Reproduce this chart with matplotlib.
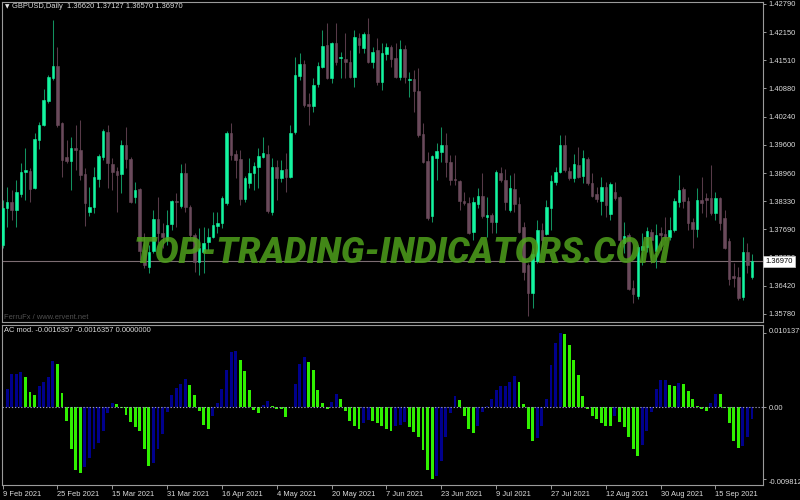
import numpy as np
import matplotlib
matplotlib.use("Agg")
import matplotlib.pyplot as plt
from matplotlib.transforms import ScaledTranslation

plt.rcParams['font.family'] = ['Liberation Sans', 'DejaVu Sans']

# ---------------- data ----------------
symbol_header = "GBPUSD,Daily  1.36620 1.37127 1.36570 1.36970"
ind_header = "AC mod. -0.0016357 -0.0016357 0.0000000"
credit = "FerruFx / www.ervent.net"
watermark = "TOP-TRADING-INDICATORS.COM"

date_labels = ["9 Feb 2021", "25 Feb 2021", "15 Mar 2021", "31 Mar 2021", "16 Apr 2021",
               "4 May 2021", "20 May 2021", "7 Jun 2021", "23 Jun 2021", "9 Jul 2021",
               "27 Jul 2021", "12 Aug 2021", "30 Aug 2021", "15 Sep 2021"]
date_bars = [0, 12, 24, 36, 48, 60, 72, 84, 96, 108, 120, 132, 144, 156]

price_ticks = [1.42790, 1.42150, 1.41510, 1.40880, 1.40240, 1.39600, 1.38960,
               1.38330, 1.37690, 1.37050, 1.36420, 1.35780]
current_price = 1.36970
ac_ticks = [0.0101379, 0.0, -0.0098128]
ac_tick_labels = ["0.0101379", "0.00", "-0.0098128"]

opens = [1.3734, 1.3817, 1.3831, 1.3813, 1.3849, 1.3899, 1.3901, 1.3863, 1.3971, 1.4005,
         1.4059, 1.4111, 1.4138, 1.4010, 1.3932, 1.3923, 1.3953, 1.3948, 1.3894, 1.3808,
         1.3820, 1.3883, 1.3933, 1.3989, 1.3917, 1.3901, 1.3894, 1.3960, 1.3928, 1.3842,
         1.3860, 1.3722, 1.3684, 1.3720, 1.3792, 1.3761, 1.3745, 1.3781, 1.3833, 1.3822,
         1.3896, 1.3820, 1.3756, 1.3695, 1.3718, 1.3740, 1.3752, 1.3777, 1.3784, 1.3829,
         1.3987, 1.3939, 1.3928, 1.3838, 1.3874, 1.3896, 1.3910, 1.3933, 1.3939, 1.3808,
         1.3910, 1.3885, 1.3905, 1.3887, 1.3990, 1.4116, 1.4143, 1.4052, 1.4048, 1.4098,
         1.4136, 1.4186, 1.4111, 1.4190, 1.4156, 1.4154, 1.4147, 1.4113, 1.4201, 1.4179,
         1.4210, 1.4147, 1.4174, 1.4102, 1.4165, 1.4181, 1.4156, 1.4113, 1.4177, 1.4107,
         1.4109, 1.4082, 1.3985, 1.3924, 1.3800, 1.3930, 1.3944, 1.3960, 1.3921, 1.3883,
         1.3879, 1.3833, 1.3829, 1.3763, 1.3826, 1.3845, 1.3797, 1.3802, 1.3786, 1.3896,
         1.3881, 1.3813, 1.3860, 1.3826, 1.3774, 1.3689, 1.3625, 1.3698, 1.3768, 1.3759,
         1.3817, 1.3876, 1.3899, 1.3960, 1.3901, 1.3885, 1.3915, 1.3890, 1.3928, 1.3874,
         1.3849, 1.3833, 1.3865, 1.3804, 1.3854, 1.3842, 1.3738, 1.3756, 1.3637, 1.3619,
         1.3723, 1.3729, 1.3763, 1.3720, 1.3761, 1.3759, 1.3752, 1.3768, 1.3831, 1.3860,
         1.3833, 1.3786, 1.3770, 1.3835, 1.3840, 1.3840, 1.3806, 1.3840, 1.3795, 1.3743,
         1.3664, 1.3662, 1.3616, 1.3718, 1.36620]
highs = [1.3835, 1.3865, 1.3858, 1.3881, 1.3919, 1.3953, 1.3908, 1.3987, 1.4012, 1.4086,
         1.4118, 1.4242, 1.4181, 1.4012, 1.3971, 1.3978, 1.4005, 1.4016, 1.3908, 1.3865,
         1.3910, 1.3939, 1.3996, 1.4005, 1.3930, 1.3910, 1.3971, 1.4000, 1.3933, 1.3876,
         1.3863, 1.3761, 1.3734, 1.3813, 1.3842, 1.3783, 1.3813, 1.3835, 1.3851, 1.3917,
         1.3919, 1.3824, 1.3761, 1.3772, 1.3775, 1.3772, 1.3808, 1.3808, 1.3845, 1.3991,
         1.4010, 1.3948, 1.3948, 1.3890, 1.3930, 1.3921, 1.3953, 1.3978, 1.3960, 1.3930,
         1.3926, 1.3926, 1.3942, 1.4005, 1.4159, 1.4168, 1.4152, 1.4077, 1.4111, 1.4147,
         1.4220, 1.4235, 1.4192, 1.4235, 1.4170, 1.4213, 1.4174, 1.4220, 1.4213, 1.4215,
         1.4247, 1.4181, 1.4201, 1.4190, 1.4190, 1.4186, 1.4190, 1.4197, 1.4186, 1.4125,
         1.4129, 1.4134, 1.4010, 1.3944, 1.3937, 1.3964, 1.4000, 1.3987, 1.3937, 1.3937,
         1.3881, 1.3854, 1.3842, 1.3842, 1.3862, 1.3896, 1.3842, 1.3806, 1.3903, 1.3910,
         1.3905, 1.3892, 1.3896, 1.3842, 1.3786, 1.3693, 1.3727, 1.3790, 1.3783, 1.3835,
         1.3892, 1.3910, 1.3982, 1.3982, 1.3910, 1.3939, 1.3955, 1.3948, 1.3933, 1.3896,
         1.3865, 1.3887, 1.3876, 1.3876, 1.3876, 1.3845, 1.3786, 1.3761, 1.3655, 1.3734,
         1.3761, 1.3775, 1.3770, 1.3781, 1.3775, 1.3797, 1.3797, 1.3840, 1.3892, 1.3865,
         1.3842, 1.3795, 1.3862, 1.3887, 1.3851, 1.3915, 1.3854, 1.3842, 1.3813, 1.3750,
         1.3693, 1.3684, 1.3752, 1.3738, 1.37127]
lows = [1.3727, 1.3775, 1.3790, 1.3775, 1.3842, 1.3835, 1.3831, 1.3860, 1.3951, 1.4003,
        1.4055, 1.4107, 1.4000, 1.3887, 1.3919, 1.3858, 1.3903, 1.3881, 1.3777, 1.3799,
        1.3806, 1.3865, 1.3926, 1.3863, 1.3858, 1.3808, 1.3851, 1.3908, 1.3829, 1.3829,
        1.3700, 1.3682, 1.3670, 1.3716, 1.3738, 1.3727, 1.3734, 1.3768, 1.3775, 1.3817,
        1.3808, 1.3745, 1.3673, 1.3666, 1.3670, 1.3723, 1.3750, 1.3761, 1.3772, 1.3824,
        1.3926, 1.3885, 1.3824, 1.3831, 1.3863, 1.3858, 1.3863, 1.3930, 1.3806, 1.3802,
        1.3835, 1.3876, 1.3854, 1.3885, 1.3985, 1.4107, 1.4046, 1.4005, 1.4034, 1.4091,
        1.4134, 1.4109, 1.4100, 1.4140, 1.4111, 1.4111, 1.4111, 1.4091, 1.4168, 1.4168,
        1.4145, 1.4134, 1.4095, 1.4084, 1.4152, 1.4136, 1.4111, 1.4107, 1.4100, 1.4068,
        1.4034, 1.3978, 1.3919, 1.3790, 1.3786, 1.3881, 1.3921, 1.3887, 1.3869, 1.3869,
        1.3813, 1.3824, 1.3759, 1.3745, 1.3817, 1.3795, 1.3752, 1.3761, 1.3761, 1.3876,
        1.3813, 1.3808, 1.3808, 1.3761, 1.3655, 1.3573, 1.3591, 1.3693, 1.3729, 1.3756,
        1.3768, 1.3869, 1.3896, 1.3899, 1.3881, 1.3876, 1.3885, 1.3874, 1.3869, 1.3842,
        1.3831, 1.3802, 1.3797, 1.3790, 1.3835, 1.3729, 1.3716, 1.3632, 1.3603, 1.3612,
        1.3689, 1.3718, 1.3693, 1.3682, 1.3723, 1.3745, 1.3745, 1.3763, 1.3820, 1.3817,
        1.3768, 1.3727, 1.3752, 1.3806, 1.3797, 1.3802, 1.3790, 1.3768, 1.3725, 1.3643,
        1.3639, 1.3610, 1.3610, 1.3670, 1.36570]
closes = [1.3817, 1.3831, 1.3813, 1.3854, 1.3899, 1.3903, 1.3860, 1.3973, 1.4005, 1.4061,
          1.4113, 1.4138, 1.4005, 1.3926, 1.3923, 1.3953, 1.3948, 1.3892, 1.3829, 1.3820,
          1.3887, 1.3935, 1.3991, 1.3919, 1.3899, 1.3892, 1.3960, 1.3928, 1.3831, 1.3858,
          1.3720, 1.3689, 1.3718, 1.3792, 1.3761, 1.3752, 1.3779, 1.3833, 1.3831, 1.3896,
          1.3820, 1.3756, 1.3695, 1.3727, 1.3738, 1.3752, 1.3779, 1.3784, 1.3840, 1.3987,
          1.3937, 1.3926, 1.3838, 1.3885, 1.3896, 1.3912, 1.3935, 1.3942, 1.3811, 1.3910,
          1.3885, 1.3903, 1.3887, 1.3987, 1.4118, 1.4143, 1.4050, 1.4048, 1.4095, 1.4138,
          1.4183, 1.4111, 1.4190, 1.4147, 1.4158, 1.4147, 1.4113, 1.4204, 1.4186, 1.4210,
          1.4147, 1.4170, 1.4102, 1.4168, 1.4181, 1.4154, 1.4113, 1.4177, 1.4113, 1.4109,
          1.4082, 1.3982, 1.3921, 1.3795, 1.3935, 1.3946, 1.3960, 1.3921, 1.3881, 1.3880,
          1.3833, 1.3829, 1.3761, 1.3831, 1.3845, 1.3799, 1.3802, 1.3786, 1.3899, 1.3881,
          1.3831, 1.3863, 1.3826, 1.3763, 1.3673, 1.3625, 1.3714, 1.3768, 1.3745, 1.3820,
          1.3878, 1.3899, 1.3960, 1.3903, 1.3885, 1.3917, 1.3887, 1.3930, 1.3874, 1.3845,
          1.3838, 1.3865, 1.3824, 1.3872, 1.3840, 1.3745, 1.3754, 1.3634, 1.3623, 1.3729,
          1.3732, 1.3765, 1.3745, 1.3756, 1.3756, 1.3752, 1.3768, 1.3833, 1.3858, 1.3833,
          1.3784, 1.3770, 1.3835, 1.3829, 1.3835, 1.3806, 1.3840, 1.3784, 1.3727, 1.3657,
          1.3659, 1.3614, 1.3718, 1.3689, 1.36970]

# AC mod. histogram, bars 1..164 (bar 0 hidden under the left border)
ac_values = [0.00247, 0.00452, 0.00462, 0.00484, 0.00411, 0.00210, 0.00174, 0.00292, 0.00347, 0.00416,
             0.00631, 0.00594, 0.00192, -0.00187, -0.00576, -0.00859, -0.00896, -0.00823, -0.00699, -0.00571,
             -0.00484, -0.00320, -0.00073, 0.00055, 0.00046, -0.00010, -0.00101, -0.00201, -0.00274, -0.00324,
             -0.00567, -0.00804, -0.00768, -0.00567, -0.00366, -0.00059, 0.00174, 0.00270, 0.00320, 0.00393,
             0.00306, 0.00174, -0.00050, -0.00238, -0.00297, -0.00119, 0.00064, 0.00247, 0.00512, 0.00763,
             0.00765, 0.00649, 0.00494, 0.00238, -0.00037, -0.00082, 0.00037, 0.00082, 0.00023, -0.00018,
             -0.00027, -0.00128, 0.00002, 0.00320, 0.00594, 0.00686, 0.00622, 0.00507, 0.00238, 0.00064,
             -0.00018, 0.00078, 0.00183, 0.00119, -0.00055, -0.00183, -0.00251, -0.00302, -0.00210, -0.00174,
             -0.00183, -0.00219, -0.00256, -0.00292, -0.00320, -0.00251, -0.00249, -0.00206, -0.00265, -0.00343,
             -0.00411, -0.00585, -0.00859, -0.00981, -0.00937, -0.00736, -0.00411, -0.00082, 0.00155, 0.00101,
             -0.00114, -0.00302, -0.00347, -0.00256, -0.00069, 0.00018, 0.00110, 0.00238, 0.00292, 0.00297,
             0.00352, 0.00430, 0.00347, 0.00046, -0.00292, -0.00457, -0.00416, -0.00251, 0.00114, 0.00576,
             0.00877, 0.01014, 0.01005, 0.00855, 0.00649, 0.00443, 0.00155, -0.00027, -0.00119, -0.00165,
             -0.00219, -0.00256, -0.00260, -0.00125, -0.00197, -0.00265, -0.00402, -0.00576, -0.00667, -0.00516,
             -0.00320, -0.00059, 0.00247, 0.00375, 0.00377, 0.00306, 0.00292, 0.00338, 0.00320, 0.00229,
             0.00110, 0.00023, -0.00018, -0.00050, 0.00055, 0.00183, 0.00181, -0.00005, -0.00210, -0.00457,
             -0.00553, -0.00526, -0.00402, -0.0016357]
ac_direction = list(
    "uuuu" "ddd" "uuuu" "dddddd" "uuuuuuu" "dddddddd" "uuuuuuuu" "ddddd" "uuuuuu" "ddddd"
    "uu" "dddd" "uuuu" "ddddd" "uu" "ddddd" "uu" "ddddd" "uuu" "dddddd" "uuuuu" "dddd"
    "uuuuuuuuu" "dddd" "uuuuuu" "ddddddddddd" "u" "ddddd" "uuuuuu" "dd" "u" "dddddd"
    "uu" "ddddd" "uuu")

# ---------------- style ----------------
W, H = 800, 500
def fx(x): return x / W
def fy(y): return 1 - y / H

BG = "black"
FRAME = "#9a9a9a"
TXT = "#dcdcdc"
BULL_BODY = "#14F5A0"
BULL_WICK = "#12915F"
BEAR_BODY = "#6A4A5B"
BEAR_WICK = "#573a48"
AC_UP = "#00008C"
AC_DN = "#30F000"
FS = 5.4

fig = plt.figure(figsize=(8, 5), dpi=100, facecolor=BG)
ax1 = fig.add_axes([fx(2), fy(322), (763 - 2) / W, (322 - 2) / H])
ax2 = fig.add_axes([fx(2), fy(485), (763 - 2) / W, (485 - 325) / H])

for ax in (ax1, ax2):
    ax.set_facecolor(BG)
    for s in ax.spines.values():
        s.set_color(FRAME)
        s.set_linewidth(0.8)
    ax.set_xlim(-0.13, 166.4)
    ax.yaxis.tick_right()
    ax.tick_params(axis='y', which='both', length=2.5, width=0.7, color=FRAME,
                   labelcolor=TXT, labelsize=FS, pad=1.5)

# ---- candles ----
o = np.array(opens); h = np.array(highs); l = np.array(lows); c = np.array(closes)
idx = np.arange(len(o))
up = c >= o
ax1.vlines(idx[up], l[up], h[up], color=BULL_WICK, lw=0.75, zorder=2)
ax1.vlines(idx[~up], l[~up], h[~up], color=BEAR_WICK, lw=0.75, zorder=2)
body_lo = np.minimum(o, c)
body_h = np.abs(c - o)
ax1.bar(idx[up], body_h[up], bottom=body_lo[up], width=0.56, color=BULL_BODY,
        edgecolor=BULL_BODY, lw=0.4, zorder=3)
ax1.bar(idx[~up], body_h[~up], bottom=body_lo[~up], width=0.56, color=BEAR_BODY,
        edgecolor=BEAR_BODY, lw=0.4, zorder=3)

ax1.axhline(current_price, color="#7d6d72", lw=0.8, zorder=1)
ax1.set_ylim(1.35599, 1.42828)
ax1.set_yticks(price_ticks)
ax1.set_yticklabels([f"{p:.5f}" for p in price_ticks])
ax1.set_xticks([])

ax1.annotate(f"{current_price:.5f}", xy=(1.0, current_price),
             xycoords=ax1.get_yaxis_transform(), xytext=(1.8, 0),
             textcoords="offset points", ha="left", va="center", fontsize=FS,
             color="black", annotation_clip=False, zorder=20,
             bbox=dict(boxstyle="square,pad=0.28", fc="white", ec="#bfbfbf", lw=0.6))

# ---- AC histogram ----
kk = np.arange(1, len(ac_values) + 1)
assert len(ac_direction) == len(ac_values)
cols = [AC_UP if d == "u" else AC_DN for d in ac_direction]
ax2.bar(kk, ac_values, width=0.64, color=cols, lw=0, zorder=2)
ax2.axhline(0, color="#9a9ab8", lw=0.8, ls=(0, (1.2, 1.6)), zorder=3)
ax2.set_ylim(-0.010645, 0.011275)
ax2.set_yticks(ac_ticks)
ax2.set_yticklabels(ac_tick_labels)
labs = ax2.get_yticklabels()
labs[0].set_transform(labs[0].get_transform() + ScaledTranslation(0, 3 / 100, fig.dpi_scale_trans))
labs[2].set_transform(labs[2].get_transform() + ScaledTranslation(0, -2.5 / 100, fig.dpi_scale_trans))

ax2.set_xticks(date_bars)
ax2.set_xticklabels(date_labels)
ax2.tick_params(axis='x', length=3, width=0.7, color=FRAME, labelcolor=TXT,
                labelsize=FS, pad=1.5)
for lbl in ax2.get_xticklabels():
    lbl.set_horizontalalignment("left")

# ---- texts ----
fig.text(fx(4.5), fy(7), "\u25BC", fontsize=4.2, color="#e6e6e6", va="center",
         family=["DejaVu Sans"])
fig.text(fx(12), fy(7), symbol_header, fontsize=FS, color=TXT, va="center")
fig.text(fx(4), fy(331), ind_header, fontsize=FS, color=TXT, va="center")
fig.text(fx(4), fy(317.5), credit, fontsize=FS, color="#505050", va="center")

wm = fig.text(fx(401.5), fy(263), watermark, ha="center", va="baseline",
              fontsize=25, family=["Roboto", "DejaVu Sans"], weight="heavy",
              style="italic", color="#4EA01C", alpha=0.85, zorder=10)
fig.canvas.draw()
bb = wm.get_window_extent()
wm.set_fontsize(25 * 537.0 / bb.width)

fig.savefig("out.png", dpi=100, facecolor=BG)
